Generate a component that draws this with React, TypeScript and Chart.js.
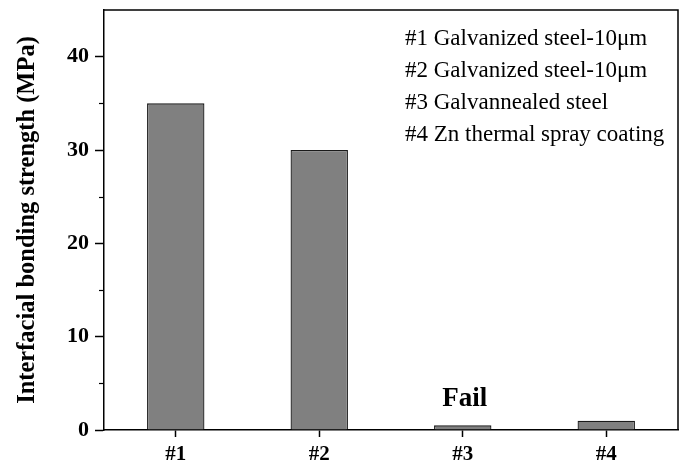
import React, { useEffect, useRef } from "react";
import { Chart, registerables } from "chart.js";

Chart.register(...registerables);

const categories = ["#1", "#2", "#3", "#4"];
const strengths = [35, 30, 0.5, 1.0];
const yMajorTicks = [0, 10, 20, 30, 40];
const yMinorTicks = [5, 15, 25, 35];
const legendLines = [
  "#1 Galvanized steel-10μm",
  "#2 Galvanized steel-10μm",
  "#3 Galvannealed steel",
  "#4 Zn thermal spray coating",
];
const failLabel = "Fail";
const failIndex = 2;
const yTitle = "Interfacial bonding strength (MPa)";

const SERIF = "'Liberation Serif', 'Times New Roman', serif";

const decorPlugin = {
  id: "decor",
  afterDraw(chart: any) {
    const { ctx, chartArea, scales } = chart;
    const y = scales.y;
    const x = scales.x;
    ctx.save();
    // frame top and right
    ctx.strokeStyle = "#000";
    ctx.lineWidth = 1.5;
    ctx.beginPath();
    ctx.moveTo(chartArea.left, chartArea.top);
    ctx.lineTo(chartArea.right, chartArea.top);
    ctx.lineTo(chartArea.right, chartArea.bottom);
    ctx.stroke();
    // minor ticks
    ctx.lineWidth = 1.2;
    yMinorTicks.forEach((v) => {
      const py = Math.round(y.getPixelForValue(v)) + 0.5;
      ctx.beginPath();
      ctx.moveTo(chartArea.left - 5, py);
      ctx.lineTo(chartArea.left, py);
      ctx.stroke();
    });
    // Fail label
    ctx.fillStyle = "#000";
    ctx.font = `bold 27px ${SERIF}`;
    ctx.textAlign = "center";
    ctx.textBaseline = "middle";
    ctx.fillText(failLabel, x.getPixelForValue(failIndex) + 2, y.getPixelForValue(3.3));
    // legend text
    ctx.font = `23px ${SERIF}`;
    ctx.textAlign = "left";
    legendLines.forEach((t, i) => {
      ctx.fillText(t, 405, 39 + i * 32);
    });
    ctx.restore();
  },
};

export default function App() {
  const ref = useRef<HTMLCanvasElement | null>(null);
  useEffect(() => {
    document.body.style.margin = "0";
    const chart = new Chart(ref.current!, {
      type: "bar",
      data: {
        labels: categories,
        datasets: [
          {
            data: strengths,
            backgroundColor: "#808080",
            borderColor: "#1a1a1a",
            borderWidth: 1.3,
            barPercentage: 0.4,
            categoryPercentage: 1,
          },
        ],
      },
      options: {
        animation: false,
        responsive: false,
        maintainAspectRatio: false,
        layout: { padding: { top: 10, right: 10, left: 0, bottom: 0 } },
        plugins: { legend: { display: false }, tooltip: { enabled: false } },
        scales: {
          x: {
            grid: {
              display: true,
              drawOnChartArea: false,
              offset: false,
              tickLength: 7,
              tickColor: "#000",
              tickWidth: 1.5,
            },
            border: { display: true, color: "#000", width: 1.5 },
            ticks: {
              color: "#000",
              font: { family: SERIF, size: 21, weight: "bold" },
              padding: 5,
            },
            afterFit(scale: any) {
              scale.height = 34;
              scale.paddingLeft = 0;
              scale.paddingRight = 0;
            },
          },
          y: {
            min: 0,
            max: 45,
            afterBuildTicks(scale: any) {
              scale.ticks = yMajorTicks.map((v) => ({ value: v }));
            },
            grid: {
              display: true,
              drawOnChartArea: false,
              tickLength: 9,
              tickColor: "#000",
              tickWidth: 1.5,
            },
            border: { display: true, color: "#000", width: 1.5 },
            ticks: {
              color: "#000",
              font: { family: SERIF, size: 22, weight: "bold" },
              padding: 6,
            },
            title: {
              display: true,
              text: yTitle,
              color: "#000",
              font: { family: SERIF, size: 24.5, weight: "bold" },
              padding: { top: 13, bottom: 0 },
            },
            afterFit(scale: any) {
              scale.width = 104;
              scale.paddingTop = 0;
              scale.paddingBottom = 0;
            },
          },
        },
      },
      plugins: [decorPlugin],
    });
    return () => chart.destroy();
  }, []);
  return (
    <div style={{ position: "absolute", left: 0, top: 0, width: 688, height: 464 }}>
      <canvas ref={ref} width={688} height={464} style={{ width: 688, height: 464 }} />
    </div>
  );
}
